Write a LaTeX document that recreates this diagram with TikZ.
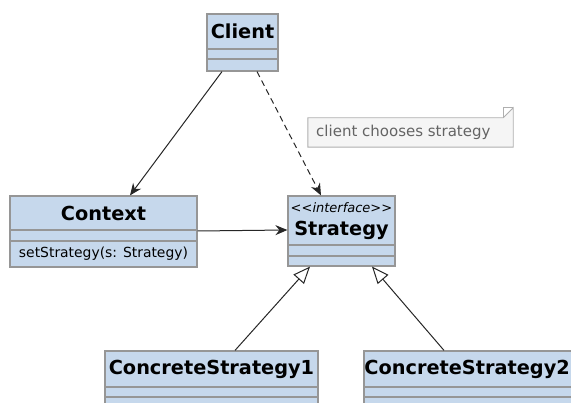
\documentclass[tikz,border=0pt]{standalone}
\usepackage{fontspec}
\setmainfont{DejaVu Sans}
\usetikzlibrary{arrows.meta}
\definecolor{clsfill}{RGB}{198,216,236}
\definecolor{clsline}{RGB}{150,150,150}
\definecolor{notefill}{RGB}{245,245,245}
\definecolor{noteline}{RGB}{175,175,175}
\definecolor{notetext}{RGB}{100,100,100}
\tikzset{
  clsbox/.style={draw=clsline, line width=1.2pt, fill=clsfill, inner sep=0pt},
  divider/.style={draw=clsline, line width=1.2pt},
  clsname/.style={font=\fontsize{19.3}{22}\selectfont\bfseries, inner sep=0pt},
  member/.style={font=\fontsize{13.9}{16}\selectfont, inner sep=0pt},
  notefont/.style={font=\fontsize{15}{17}\selectfont, inner sep=0pt},
  stereo/.style={font=\fontsize{13}{15}\selectfont\itshape, inner sep=0pt},
  conn/.style={draw=black!85, line width=1pt, -{Stealth[length=12pt,width=10pt,inset=4pt]}},
  realize/.style={draw=black!85, line width=1pt, -{Triangle[open,length=17pt,width=14pt,fill=white]}},
}
\begin{document}
\begin{tikzpicture}[x=1pt,y=-1pt]
\useasboundingbox (0,0) rectangle (571,403);

% Client
\node[clsbox, minimum width=71pt, minimum height=57pt] (client) at (242.5,42.5) {};
\draw[divider] (207,49) -- (278,49) (207,59) -- (278,59);
\node[clsname] (clientname) at (242.5,31.5) {Client};

% Context
\node[clsbox, minimum width=187pt, minimum height=71pt] (context) at (103.5,231.5) {};
\draw[divider] (10,230) -- (197,230) (10,241) -- (197,241);
\node[clsname] (contextname) at (103.5,213) {Context};
\node[member] (contextop) at (103.5,254) {setStrategy(s: Strategy)};

% Strategy (interface)
\node[clsbox, minimum width=107pt, minimum height=70pt] (strategy) at (341.5,231) {};
\draw[divider] (288,245) -- (395,245) (288,256) -- (395,256);
\node[stereo] (stereotype) at (341.5,208) {{<}{<}interface{>}{>}};
\node[clsname] (strategyname) at (341.5,230) {Strategy};

% Concrete strategies
\node[clsbox, minimum width=213pt, minimum height=80pt] (cs1) at (211.5,391) {};
\draw[divider] (105,387) -- (318,387) (105,397) -- (318,397);
\node[clsname] (cs1name) at (211.5,369) {ConcreteStrategy1};

\node[clsbox, minimum width=226pt, minimum height=80pt] (cs2) at (477,391) {};
\draw[divider] (364,387) -- (590,387) (364,397) -- (590,397);
\node[clsname, anchor=east] (cs2name) at (570,369) {ConcreteStrategy2};

% Note with folded corner
\node[inner sep=0pt, minimum width=205pt, minimum height=29pt] (note) at (410.5,132.5) {};
\draw[draw=noteline, fill=notefill, line width=0.9pt]
  (note.north west) -- ([xshift=-10pt]note.north east) -- ([yshift=10pt]note.north east)
  -- (note.south east) -- (note.south west) -- cycle;
\draw[draw=noteline, line width=0.9pt]
  ([xshift=-10pt]note.north east) -- ([xshift=-10pt,yshift=10pt]note.north east) -- ([yshift=10pt]note.north east);
\node[notefont, text=notetext, anchor=west] (notetext) at (316,132.5) {client chooses strategy};

% Connectors
\draw[conn] ([xshift=-20.5pt]client.south) -- ([xshift=26.5pt]context.north);
\draw[conn, dashed, dash pattern=on 6pt off 4pt] ([xshift=14.5pt]client.south) -- ([xshift=-20.5pt]strategy.north);
\draw[conn] ([yshift=0.5pt]context.east) -- ([yshift=1pt]strategy.west);
\draw[realize] ([xshift=23.5pt]cs1.north) -- ([xshift=-31.5pt]strategy.south);
\draw[realize] ([xshift=-33pt]cs2.north) -- ([xshift=30.5pt]strategy.south);
\end{tikzpicture}
\end{document}
